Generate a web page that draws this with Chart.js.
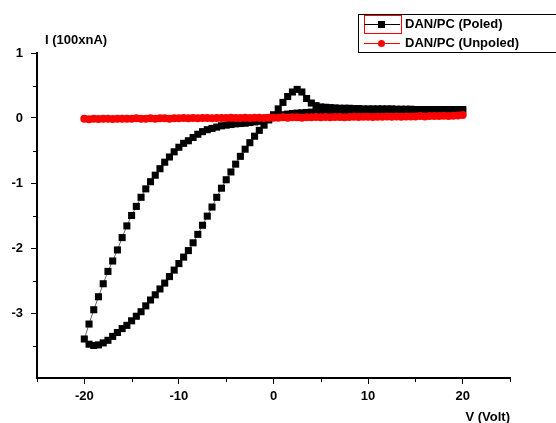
<!DOCTYPE html>
<html lang="en">
<head>
  <meta charset="UTF-8">
  <title>DAN/PC I-V</title>
  <script src="https://cdn.jsdelivr.net/npm/chart.js"></script>
  <style>
    body { margin: 0; background: #fff; }
    canvas { display: block; }
  </style>
</head>
<body>
  <canvas id="grafico" width="556" height="423"></canvas>

<script>
  // tick labels
  var xTicks = [-20, -10, 0, 10, 20];
  var yTicks = [-3, -2, -1, 0, 1];
  var xMinor = [-25, -15, -5, 5, 15, 25];
  var yMinor = [-3.5, -2.5, -1.5, -0.5, 0.5];

  // poled: sweep from +20 down to -20
  var voltsDown = [20, 19.5, 19, 18.5, 18, 17.5, 17, 16.5, 16, 15.5, 15, 14.5, 14, 13.5, 13, 12.5, 12, 11.5, 11, 10.5,
    10, 9.5, 9, 8.5, 8, 7.5, 7, 6.5, 6, 5.5, 5, 4.5, 4, 3.5, 3, 2.5, 2, 1.5, 1, 0.5,
    0, -0.5, -1, -1.5, -2, -2.5, -3, -3.5, -4, -4.5, -5, -5.5, -6, -6.5, -7, -7.5, -8, -8.5, -9, -9.5,
    -10, -10.5, -11, -11.5, -12, -12.5, -13, -13.5, -14, -14.5, -15, -15.5, -16, -16.5, -17, -17.5, -18, -18.5, -19, -19.5, -20];
  var poledDown = [0.12, 0.12, 0.11, 0.11, 0.11, 0.11, 0.11, 0.11, 0.11, 0.10, 0.10, 0.10, 0.10, 0.10, 0.10, 0.10, 0.10, 0.10, 0.10, 0.10,
    0.10, 0.10, 0.10, 0.10, 0.10, 0.10, 0.10, 0.10, 0.10, 0.09, 0.09, 0.09, 0.09, 0.085, 0.08, 0.075, 0.07, 0.06, 0.05, 0.04,
    0.02, 0.0, -0.03, -0.05, -0.06, -0.07, -0.08, -0.085, -0.09, -0.10, -0.11, -0.12, -0.14, -0.16, -0.18, -0.21, -0.25, -0.30, -0.35, -0.39,
    -0.45, -0.52, -0.60, -0.68, -0.78, -0.88, -0.98, -1.09, -1.22, -1.36, -1.50, -1.66, -1.84, -2.03, -2.20, -2.36, -2.55, -2.75, -2.95, -3.17, -3.40];

  // poled: sweep back from -20 up to +20
  var voltsUp = [-19.5, -19, -18.5, -18, -17.5, -17, -16.5, -16, -15.5, -15, -14.5, -14, -13.5, -13, -12.5, -12, -11.5, -11, -10.5, -10,
    -9.5, -9, -8.5, -8, -7.5, -7, -6.5, -6, -5.5, -5, -4.5, -4, -3.5, -3, -2.5, -2, -1.5, -1, -0.5, 0,
    0.5, 1, 1.5, 2, 2.5, 3, 3.5, 4, 4.5, 5, 5.5, 6, 6.5, 7, 7.5, 8, 8.5, 9, 9.5, 10,
    10.5, 11, 11.5, 12, 12.5, 13, 13.5, 14, 14.5, 15, 15.5, 16, 16.5, 17, 17.5, 18, 18.5, 19, 19.5, 20];
  var poledUp = [-3.48, -3.50, -3.49, -3.46, -3.42, -3.36, -3.30, -3.24, -3.19, -3.12, -3.05, -2.98, -2.89, -2.80, -2.72, -2.63, -2.54, -2.44, -2.34, -2.24,
    -2.14, -2.04, -1.92, -1.79, -1.65, -1.51, -1.37, -1.22, -1.08, -0.95, -0.83, -0.71, -0.59, -0.48, -0.38, -0.28, -0.19, -0.11, -0.03, 0.05,
    0.14, 0.24, 0.33, 0.40, 0.44, 0.40, 0.30, 0.23, 0.19, 0.17, 0.165, 0.16, 0.155, 0.15, 0.15, 0.15, 0.145, 0.145, 0.14, 0.14,
    0.14, 0.14, 0.14, 0.14, 0.14, 0.135, 0.135, 0.135, 0.135, 0.13, 0.13, 0.13, 0.13, 0.13, 0.13, 0.13, 0.13, 0.13, 0.13, 0.13];

  // unpoled
  var voltsUnpoled = [-20, -19.5, -19, -18.5, -18, -17.5, -17, -16.5, -16, -15.5, -15, -14.5, -14, -13.5, -13, -12.5, -12, -11.5, -11, -10.5,
    -10, -9.5, -9, -8.5, -8, -7.5, -7, -6.5, -6, -5.5, -5, -4.5, -4, -3.5, -3, -2.5, -2, -1.5, -1, -0.5,
    0, 0.5, 1, 1.5, 2, 2.5, 3, 3.5, 4, 4.5, 5, 5.5, 6, 6.5, 7, 7.5, 8, 8.5, 9, 9.5,
    10, 10.5, 11, 11.5, 12, 12.5, 13, 13.5, 14, 14.5, 15, 15.5, 16, 16.5, 17, 17.5, 18, 18.5, 19, 19.5, 20];
  var unpoledI = [-0.01, -0.02, -0.01, -0.015, -0.01, -0.01, -0.015, -0.01, -0.01, -0.01,
    -0.01, -0.005, -0.01, -0.01, -0.005, -0.01, -0.005, -0.005, -0.01, -0.005,
    -0.005, 0, -0.005, 0, -0.005, 0, 0, -0.005, 0, 0,
    0, 0.005, 0, 0, 0.005, 0, 0.005, 0.005, 0, 0.005,
    0.005, 0.005, 0.01, 0.005, 0.01, 0.01, 0.005, 0.01, 0.01, 0.015,
    0.01, 0.015, 0.01, 0.015, 0.015, 0.01, 0.015, 0.02, 0.015, 0.02,
    0.02, 0.015, 0.02, 0.02, 0.025, 0.02, 0.025, 0.02, 0.025, 0.025,
    0.025, 0.03, 0.025, 0.03, 0.03, 0.03, 0.035, 0.03, 0.035, 0.04,
    0.045];

  var fonte = 'Arial, "Liberation Sans", sans-serif';

  function pares(xs, ys) {
    var out = [];
    for (var i = 0; i < xs.length; i++) out.push({ x: xs[i], y: ys[i] });
    return out;
  }

  var dadosPoled = pares(voltsDown, poledDown).concat(pares(voltsUp, poledUp));
  var dadosUnpoled = pares(voltsUnpoled, unpoledI);

  // minor ticks, axis titles and legend box
  var extras = {
    id: 'extras',
    afterDraw: function (chart) {
      var c = chart.ctx;
      var sx = chart.scales.x, sy = chart.scales.y;
      var a = chart.chartArea;
      c.save();
      c.strokeStyle = '#000';
      c.lineWidth = 1;
      c.beginPath();
      xMinor.forEach(function (v) {
        var p = Math.round(sx.getPixelForValue(v)) + 0.5;
        c.moveTo(p, a.bottom); c.lineTo(p, a.bottom + 4);
      });
      yMinor.forEach(function (v) {
        var p = Math.round(sy.getPixelForValue(v)) + 0.5;
        c.moveTo(a.left, p); c.lineTo(a.left - 4, p);
      });
      c.stroke();

      c.fillStyle = '#000';
      c.font = 'bold 13px ' + fonte;
      c.textBaseline = 'middle';
      c.textAlign = 'left';
      c.fillText('I (100xnA)', 45, 40);
      c.textAlign = 'right';
      c.fillText('V (Volt)', 510, 417);

      // legend
      c.strokeStyle = '#000';
      c.strokeRect(358.5, 14.5, 210, 38);
      c.strokeStyle = '#ff0000';
      c.strokeRect(364.5, 15.5, 37, 18);

      c.strokeStyle = '#000';
      c.beginPath(); c.moveTo(364, 24.5); c.lineTo(400, 24.5); c.stroke();
      c.fillRect(378, 21, 7, 7);
      c.strokeStyle = '#ff0000';
      c.fillStyle = '#ff0000';
      c.beginPath(); c.moveTo(364, 43.5); c.lineTo(400, 43.5); c.stroke();
      c.beginPath(); c.arc(381.5, 43.5, 3.5, 0, Math.PI * 2); c.fill();

      c.fillStyle = '#000';
      c.textAlign = 'left';
      c.fillText('DAN/PC (Poled)', 405, 24);
      c.fillText('DAN/PC (Unpoled)', 405, 43);
      c.restore();
    }
  };

  var config = {
    type: 'scatter',
    data: {
      datasets: [{
        label: 'DAN/PC (Poled)',
        data: dadosPoled,
        showLine: true,
        borderColor: '#666',
        borderWidth: 1,
        pointStyle: 'rect',
        pointRadius: 5,
        pointBackgroundColor: '#000',
        pointBorderColor: '#000',
        pointBorderWidth: 0,
        order: 2
      }, {
        label: 'DAN/PC (Unpoled)',
        data: dadosUnpoled,
        showLine: true,
        borderColor: '#ff0000',
        borderWidth: 4,
        pointStyle: 'circle',
        pointRadius: 4,
        pointBackgroundColor: '#ff0000',
        pointBorderColor: '#ff0000',
        pointBorderWidth: 0,
        order: 1
      }]
    },
    options: {
      responsive: false,
      animation: false,
      layout: { padding: { top: 53, right: 46, left: 0, bottom: 0 } },
      plugins: {
        legend: { display: false },
        tooltip: { enabled: false }
      },
      scales: {
        x: {
          type: 'linear',
          min: -25,
          max: 25,
          afterBuildTicks: function (s) { s.ticks = xTicks.map(function (v) { return { value: v }; }); },
          afterFit: function (s) { s.height = 45; },
          border: { display: true, color: '#000', width: 2 },
          grid: { drawOnChartArea: false, drawTicks: true, tickLength: 6, color: '#000', lineWidth: 1 },
          ticks: { color: '#000', padding: 5, maxRotation: 0, font: { family: fonte, size: 13, weight: 'bold' } }
        },
        y: {
          type: 'linear',
          min: -4,
          max: 1,
          afterBuildTicks: function (s) { s.ticks = yTicks.map(function (v) { return { value: v }; }); },
          afterFit: function (s) { s.width = 37; },
          border: { display: true, color: '#000', width: 2 },
          grid: { drawOnChartArea: false, drawTicks: true, tickLength: 6, color: '#000', lineWidth: 1 },
          ticks: { color: '#000', padding: 8, font: { family: fonte, size: 13, weight: 'bold' } }
        }
      }
    },
    plugins: [extras]
  };

  var meuGrafico = new Chart(document.getElementById('grafico'), config);
</script>
</body>
</html>
